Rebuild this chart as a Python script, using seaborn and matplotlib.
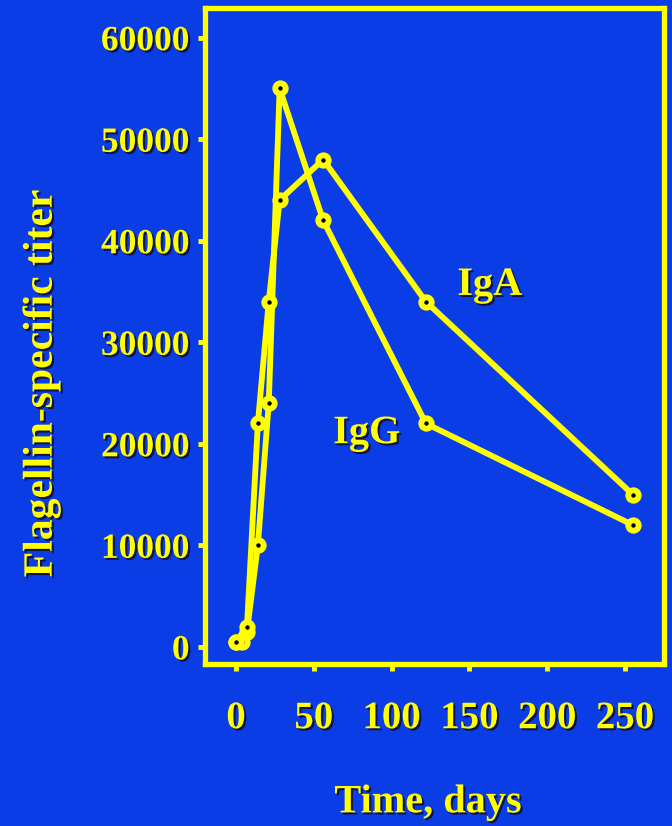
import pandas as pd
import numpy as np
import matplotlib
matplotlib.use("Agg")
import matplotlib.pyplot as plt
import matplotlib.patheffects as pe
import seaborn as sns

# values
iga_days = [0, 7, 14, 21, 28, 56, 122, 255]
iga_titer = [500, 2000, 22000, 34000, 44000, 48000, 34000, 15000]
igg_days = [0, 4, 7, 14, 21, 28, 56, 122, 255]
igg_titer = [500, 500, 1500, 10000, 24000, 55000, 42000, 22000, 12000]
x_ticks = [0, 50, 100, 150, 200, 250]
y_ticks = [0, 10000, 20000, 30000, 40000, 50000, 60000]

BLUE = "#0a3de6"
YELLOW = "#ffff00"

sns.set_style("ticks")
plt.rcParams["font.family"] = ["Liberation Serif", "DejaVu Serif"]
plt.rcParams["font.weight"] = "bold"

shadow = [pe.SimplePatchShadow(offset=(1.5, -1.5), shadow_rgbFace="#101030", alpha=0.9), pe.Normal()]

fig = plt.figure(figsize=(6.72, 8.26), dpi=100, facecolor=BLUE)
ax = fig.add_axes([0.305, 0.196, 0.683, 0.794])
ax.set_facecolor(BLUE)

df_a = pd.DataFrame({"day": iga_days, "titer": iga_titer})
df_g = pd.DataFrame({"day": igg_days, "titer": igg_titer})
style = dict(color=YELLOW, linewidth=4.2, marker="o", markersize=7.5,
             markerfacecolor="black", markeredgecolor=YELLOW, markeredgewidth=4.2,
             estimator=None, sort=False)
sns.lineplot(data=df_g, x="day", y="titer", ax=ax, **style)
sns.lineplot(data=df_a, x="day", y="titer", ax=ax, **style)

ax.set_xlim(-20, 275)
ax.set_ylim(-1700, 62900)
ax.set_xticks(x_ticks)
ax.set_yticks(y_ticks)
ax.set_xticklabels([str(v) for v in x_ticks], fontsize=28, color=YELLOW, fontweight="bold")
ax.set_yticklabels([str(v) for v in y_ticks], fontsize=25.5, color=YELLOW, fontweight="bold")
for t in ax.get_xticklabels() + ax.get_yticklabels():
    t.set_path_effects(shadow)
ax.tick_params(axis="x", colors=YELLOW, length=5, width=3.5, pad=21)
ax.tick_params(axis="y", colors=YELLOW, length=5, width=3.5, pad=6)

for s in ax.spines.values():
    s.set_color(YELLOW)
    s.set_linewidth(3.8)

ax.set_xlabel("")
ax.set_ylabel("")
fig.text(0.637, 0.028, "Time, days", fontsize=29, color=YELLOW, fontweight="bold",
         ha="center", va="center", path_effects=shadow)
fig.text(0.062, 0.535, "Flagellin-specific titer", fontsize=30, color=YELLOW, fontweight="bold",
         ha="center", va="center", rotation=90, path_effects=shadow)

ax.text(163, 35600, "IgA", fontsize=29, color=YELLOW, fontweight="bold",
        ha="center", va="center", path_effects=shadow)
ax.text(84, 21000, "IgG", fontsize=29, color=YELLOW, fontweight="bold",
        ha="center", va="center", path_effects=shadow)

fig.savefig("out.png", dpi=100, facecolor=BLUE)
